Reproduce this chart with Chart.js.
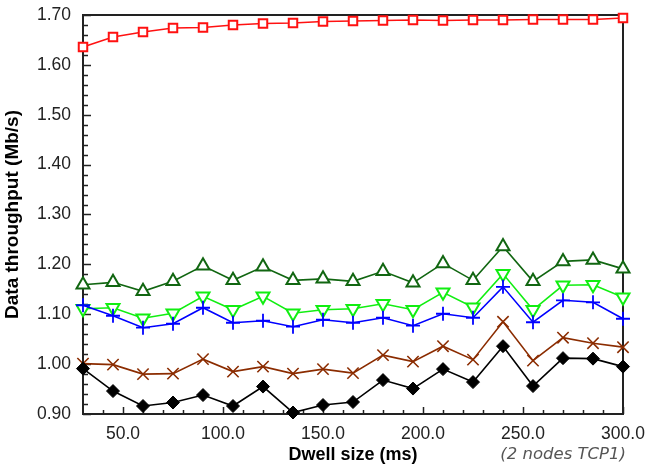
<!DOCTYPE html>
<html>
<head>
<meta charset="utf-8">
<script src="https://cdn.jsdelivr.net/npm/chart.js@4.4.1/dist/chart.umd.min.js"></script>
<style>
  html, body { margin: 0; padding: 0; background: #ffffff; }
  #wrap { width: 645px; height: 467px; }
</style>
</head>
<body>
<div id="wrap"><canvas id="chart" width="645" height="467"></canvas></div>
<script>
// Dwell size (ms) on the x axis
const dwell = [30, 45, 60, 75, 90, 105, 120, 135, 150, 165, 180, 195, 210, 225, 240, 255, 270, 285, 300];

// Throughput series (Mb/s)
const redSquares = [1.636, 1.656, 1.666, 1.674, 1.675, 1.680, 1.683, 1.684, 1.687, 1.688, 1.689, 1.690, 1.689, 1.690, 1.690, 1.691, 1.691, 1.691, 1.694];
const darkGreenUp = [1.159, 1.164, 1.146, 1.166, 1.197, 1.168, 1.195, 1.168, 1.171, 1.166, 1.186, 1.163, 1.202, 1.168, 1.236, 1.166, 1.206, 1.209, 1.191];
const lightGreenDown = [1.111, 1.113, 1.092, 1.102, 1.136, 1.109, 1.136, 1.102, 1.109, 1.111, 1.121, 1.109, 1.144, 1.114, 1.181, 1.109, 1.158, 1.159, 1.134];
const bluePlus = [1.118, 1.097, 1.073, 1.081, 1.113, 1.083, 1.087, 1.075, 1.089, 1.083, 1.093, 1.077, 1.101, 1.093, 1.155, 1.084, 1.128, 1.124, 1.091];
const brownCross = [1.001, 0.999, 0.980, 0.981, 1.010, 0.985, 0.995, 0.981, 0.990, 0.982, 1.018, 1.005, 1.036, 1.009, 1.085, 1.007, 1.053, 1.042, 1.034];
const blackDiamond = [0.991, 0.946, 0.916, 0.923, 0.938, 0.916, 0.955, 0.903, 0.918, 0.924, 0.968, 0.951, 0.990, 0.964, 1.036, 0.956, 1.012, 1.011, 0.995];

// Axis ticks
const xTicks = [50, 100, 150, 200, 250, 300];
const xMinorTicks = [40, 60, 70, 80, 90, 110, 120, 130, 140, 160, 170, 180, 190, 210, 220, 230, 240, 260, 270, 280, 290];
const yTicks = [0.90, 1.00, 1.10, 1.20, 1.30, 1.40, 1.50, 1.60, 1.70];
const yMinorStep = 0.02;

const xTitle = 'Dwell size (ms)';
const yTitle = 'Data throughput (Mb/s)';
const footNote = '(2 nodes TCP1)';

function points(values) {
    return values.map((v, i) => ({ x: dwell[i], y: v }));
}

function series(values, color, style, radius, extra) {
    return Object.assign({
        data: points(values),
        borderColor: color,
        borderWidth: 1.6,
        pointStyle: style,
        pointRadius: radius,
        pointBorderColor: color,
        pointBackgroundColor: '#ffffff',
        pointBorderWidth: 2,
        tension: 0,
        clip: false
    }, extra || {});
}

// frame + inward tick marks, like the original plot
const framePlugin = {
    id: 'frame',
    beforeDatasetsDraw(chart) {
        const ctx = chart.ctx;
        const a = chart.chartArea;
        const xs = chart.scales.x;
        const ys = chart.scales.y;
        ctx.save();
        ctx.strokeStyle = '#222222';
        ctx.lineWidth = 1.5;
        ctx.beginPath();
        xTicks.forEach(v => {
            const px = Math.round(xs.getPixelForValue(v)) + 0.5;
            ctx.moveTo(px, a.bottom); ctx.lineTo(px, a.bottom - 7);
        });
        xMinorTicks.forEach(v => {
            const px = Math.round(xs.getPixelForValue(v)) + 0.5;
            ctx.moveTo(px, a.bottom); ctx.lineTo(px, a.bottom - 4);
        });
        for (let v = ys.min; v <= ys.max + 1e-9; v += yMinorStep) {
            const py = Math.round(ys.getPixelForValue(v)) + 0.5;
            const major = yTicks.some(t => Math.abs(t - v) < 1e-6);
            ctx.moveTo(a.left, py); ctx.lineTo(a.left + (major ? 8 : 5), py);
        }
        ctx.stroke();
        ctx.lineWidth = 2;
        ctx.strokeRect(a.left, a.top, a.right - a.left, a.bottom - a.top);
        ctx.restore();
    },
    afterDraw(chart) {
        const ctx = chart.ctx;
        ctx.save();
        ctx.font = 'italic 16.5px "DejaVu Sans", sans-serif';
        ctx.fillStyle = '#555555';
        ctx.textAlign = 'right';
        ctx.textBaseline = 'middle';
        ctx.fillText(footNote, 626, 455);
        ctx.restore();
    }
};

const tickFont = { family: '"Liberation Sans", Arial, sans-serif', size: 17.5 };

new Chart(document.getElementById('chart').getContext('2d'), {
    type: 'line',
    data: {
        datasets: [
            series(blackDiamond, '#000000', 'rectRot', 6.5, { pointBackgroundColor: '#000000', pointBorderWidth: 1 }),
            series(brownCross, '#8b2c00', 'crossRot', 8, { pointBorderWidth: 1.6 }),
            series(bluePlus, '#0000ff', 'cross', 7, { pointBorderWidth: 1.8 }),
            series(lightGreenDown, '#11ee11', 'triangle', 7.5, { pointRotation: 180 }),
            series(darkGreenUp, '#116611', 'triangle', 7.5),
            series(redSquares, '#ff1111', 'rect', 6)
        ]
    },
    options: {
        responsive: false,
        animation: false,
        layout: { padding: { top: 15, right: 22, bottom: 0, left: 0 } },
        plugins: {
            legend: { display: false },
            tooltip: { enabled: false }
        },
        scales: {
            x: {
                type: 'linear',
                min: 30,
                max: 300,
                afterBuildTicks: s => { s.ticks = xTicks.map(v => ({ value: v })); },
                afterFit: s => { s.height = 53; s.paddingLeft = 0; s.paddingRight = 0; },
                grid: { display: false, drawTicks: false },
                border: { display: false },
                ticks: {
                    font: tickFont,
                    color: '#222222',
                    padding: 10,
                    maxRotation: 0,
                    autoSkip: false,
                    callback: v => v.toFixed(1)
                },
                title: {
                    display: true,
                    text: xTitle,
                    font: { family: '"Liberation Sans", Arial, sans-serif', size: 18, weight: 'bold' },
                    color: '#000000',
                    padding: { top: 0, bottom: 1 }
                }
            },
            y: {
                type: 'linear',
                min: 0.9,
                max: 1.7,
                afterBuildTicks: s => { s.ticks = yTicks.map(v => ({ value: v })); },
                afterFit: s => { s.width = 83; s.paddingTop = 0; s.paddingBottom = 0; },
                grid: { display: false, drawTicks: false },
                border: { display: false },
                ticks: {
                    font: tickFont,
                    color: '#222222',
                    padding: 12,
                    autoSkip: false,
                    callback: v => v.toFixed(2)
                },
                title: {
                    display: true,
                    text: yTitle,
                    font: { family: '"Liberation Sans", Arial, sans-serif', size: 19, weight: 'bold' },
                    color: '#000000',
                    padding: { top: 1, bottom: 0 }
                }
            }
        }
    },
    plugins: [framePlugin]
});
</script>
</body>
</html>
